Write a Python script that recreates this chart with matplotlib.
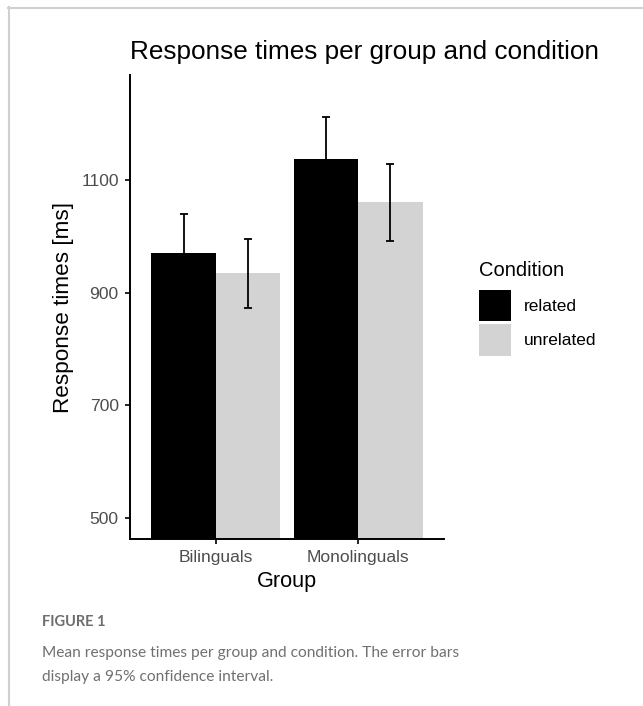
import numpy as np
import matplotlib
matplotlib.use("Agg")
import matplotlib.pyplot as plt
from matplotlib.patches import Patch
from matplotlib.lines import Line2D

plt.rcParams['font.family'] = ['Liberation Sans', 'DejaVu Sans']

# data
groups = ['Bilinguals', 'Monolinguals']
conditions = ['related', 'unrelated']
colors = ['#000000', '#d3d3d3']
means = {
    'related': [971, 1138],
    'unrelated': [935, 1061],
}
ci_low = {
    'related': [902, 1063],
    'unrelated': [874, 992],
}
ci_high = {
    'related': [1040, 1213],
    'unrelated': [996, 1130],
}

W, H = 643, 706
fig = plt.figure(figsize=(W / 100, H / 100), dpi=100)

def fx(px):
    return px / W

def fy(py):
    return 1 - py / H

ax = fig.add_axes([fx(130), fy(539), fx(444) - fx(130), fy(75) - fy(539)])

x = np.arange(1, len(groups) + 1)
bw = 0.45
for i, cond in enumerate(conditions):
    pos = x + (i - 0.5) * bw
    m = np.array(means[cond])
    lo = m - np.array(ci_low[cond])
    hi = np.array(ci_high[cond]) - m
    ax.bar(pos, m, width=bw, color=colors[i], label=cond, zorder=2)
    ax.errorbar(pos, m, yerr=[lo, hi], fmt='none', ecolor='black',
                elinewidth=1.3, capsize=3, capthick=1.3, zorder=3)

ax.set_xlim(0.4, 2.6)
ax.set_ylim(462.5, 1287.5)
ax.set_xticks(x)
ax.set_xticklabels(groups)
ax.set_yticks([500, 700, 900, 1100])
ax.tick_params(axis='both', length=3.6, width=1.2, color='black',
               labelsize=12.6, labelcolor='#4d4d4d', pad=4.5)
for side in ['top', 'right']:
    ax.spines[side].set_visible(False)
for side in ['left', 'bottom']:
    ax.spines[side].set_linewidth(1.4)

fig.text(fx(130), fy(58.5), 'Response times per group and condition',
         fontsize=18.8, va='baseline', ha='left')
fig.text(fx(287), fy(587), 'Group', fontsize=15.6, va='baseline', ha='center')
fig.text(fx(63), fy(307), 'Response times [ms]', fontsize=16.2,
         rotation=90, va='center', ha='center')

# legend: title as separate text, keys placed by the legend
fig.text(fx(479), fy(275.7), 'Condition', fontsize=14.5, va='baseline', ha='left')
handles = [Patch(facecolor=c, edgecolor='none') for c in colors]
leg = fig.legend(handles, conditions, loc='upper left',
                 bbox_to_anchor=(fx(479), fy(290)), frameon=False,
                 fontsize=12.5, handlelength=1.84,
                 handleheight=2.4, labelspacing=0.17, handletextpad=0.72,
                 borderpad=0, borderaxespad=0)

# caption below the plot
fig.text(fx(42), fy(626), 'FIGURE 1', fontsize=10.5, fontweight='bold',
         color='#6e6e6e', family=['Lato', 'DejaVu Sans'], va='baseline')
fig.text(fx(42), fy(657), 'Mean response times per group and condition. The error bars',
         fontsize=11.2, color='#707070', family=['Lato', 'DejaVu Sans'], va='baseline')
fig.text(fx(42), fy(681), 'display a 95% confidence interval.',
         fontsize=11.2, color='#707070', family=['Lato', 'DejaVu Sans'], va='baseline')

# light frame at top and left
fig.add_artist(Line2D([fx(8), 1], [fy(7.5), fy(7.5)], color='#d0d0d0', lw=1.5))
fig.add_artist(Line2D([fx(8.5), fx(8.5)], [fy(7), 0], color='#d0d0d0', lw=1.5))

fig.savefig('out.png', dpi=100)
